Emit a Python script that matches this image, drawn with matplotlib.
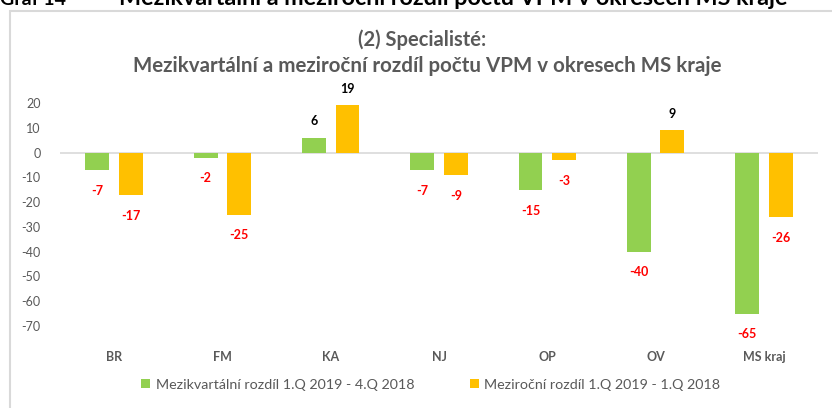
import matplotlib
matplotlib.use("Agg")
import matplotlib.pyplot as plt
from matplotlib.patches import Rectangle
import numpy as np

categories = ["BR", "FM", "KA", "NJ", "OP", "OV", "MS kraj"]
qoq = [-7, -2, 6, -7, -15, -40, -65]
yoy = [-17, -25, 19, -9, -3, 9, -26]
series_names = ["Mezikvartální rozdíl 1.Q 2019 - 4.Q 2018",
                "Meziroční rozdíl 1.Q 2019 - 1.Q 2018"]
yticks = [20, 10, 0, -10, -20, -30, -40, -50, -60, -70]

plt.rcParams['font.family'] = ['Lato', 'DejaVu Sans']
GREEN = "#92D050"
YELLOW = "#FFC000"
GRAY = "#595959"

fig = plt.figure(figsize=(8.32, 4.08), dpi=100)
# outer chart border
fig.patches.append(Rectangle((10/832, -0.1), 1.2, 1 - 11/408 + 0.1, transform=fig.transFigure,
                             fill=False, edgecolor="#D9D9D9", linewidth=1.5))
# caption above the chart (partly outside the picture, as in the source)
fig.text(0.0, 1 - 5/408, "Graf 14", fontsize=14, fontweight="bold", color="black", va="baseline")
fig.text(119/832, 1 - 5/408, "Mezikvartální a meziroční rozdíl počtu VPM v okresech MS kraje",
         fontsize=16.8, fontweight="bold", color="black", va="baseline")

ax = fig.add_axes([60/832, 1 - 326/408, 758/832, (326 - 103)/408])
x = np.arange(len(categories))
w = 0.22
off = 0.155
b1 = ax.bar(x - off, qoq, w, color=GREEN, label=series_names[0], zorder=2)
b2 = ax.bar(x + off, yoy, w, color=YELLOW, label=series_names[1], zorder=2)

for bars, vals in ((b1, qoq), (b2, yoy)):
    for b, v in zip(bars, vals):
        cx = b.get_x() + b.get_width() / 2
        if v < 0:
            ax.annotate(str(v), (cx, v), xytext=(0, -15), textcoords="offset points",
                        ha="center", va="center", color="#FF0000", fontsize=9,
                        fontweight="bold", annotation_clip=False)
        else:
            ax.annotate(str(v), (cx, v), xytext=(0, 12), textcoords="offset points",
                        ha="center", va="center", color="black", fontsize=9,
                        fontweight="bold", annotation_clip=False)

ax.set_xlim(-0.5, len(categories) - 0.5)
ax.set_ylim(-70, 20)
ax.set_yticks(yticks)
ax.set_yticklabels([str(t) for t in yticks])
ax.axhline(0, color="#D9D9D9", linewidth=1.2, zorder=1)
for s in ax.spines.values():
    s.set_visible(False)
ax.tick_params(axis="y", length=0, labelsize=9, labelcolor=GRAY, pad=14)
ax.tick_params(axis="x", length=0, labelsize=9, labelcolor=GRAY, pad=18)
ax.set_xticks(x)
ax.set_xticklabels(categories, fontweight="bold")

fig.text(422/832, 1 - 40/408, "(2) Specialisté:", ha="center", va="center",
         fontsize=14.5, fontweight="bold", color=GRAY)
fig.text(427/832, 1 - 66/408, "Mezikvartální a meziroční rozdíl počtu VPM v okresech MS kraje",
         ha="center", va="center", fontsize=14.8, fontweight="bold", color=GRAY)

leg = fig.legend(loc="center", bbox_to_anchor=(431/832, 1 - 385/408), ncol=2, frameon=False,
                 fontsize=10.3, labelcolor=GRAY, handlelength=0.6, handleheight=0.6,
                 handletextpad=0.4, columnspacing=3.9)

fig.savefig("out.png", dpi=100)
